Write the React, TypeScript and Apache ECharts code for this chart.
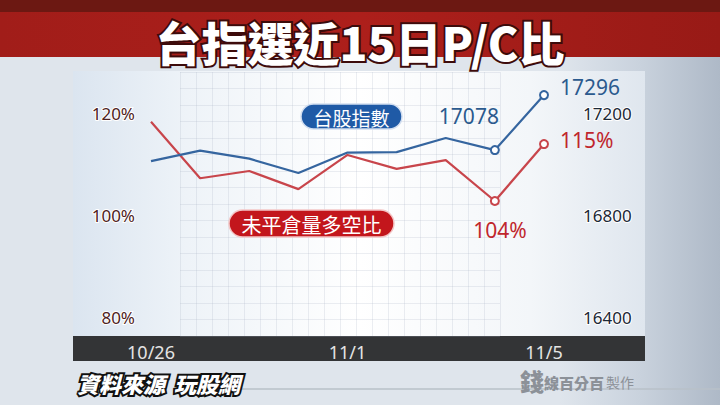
import React, { useEffect, useRef } from "react";
import * as echarts from "echarts";

// ---- data ----
const dates = ["10/26", "10/27", "10/28", "10/29", "11/1", "11/2", "11/3", "11/4", "11/5"];
const taiexIndex = [17034, 17076, 17044, 16987, 17068, 17070, 17126, 17078, 17296];
const pcRatio = [119.3, 108.4, 109.8, 106.3, 112.9, 110.2, 111.9, 104, 115];
const leftTicks = [80, 100, 120];
const rightTicks = [16400, 16800, 17200];
// scale ranges used to plot each series (the picture's own plotting scale)
const pcScale = [81.6, 121.0];
const indexScale = [16416, 17225];

const title = "台指選近15日P/C比";
const indexName = "台股指數";
const ratioName = "未平倉量多空比";
const sourceA = "資料來源";
const sourceB = "玩股網";

const BLUE = "#35659f";
const RED = "#c8454b";
const FONT = "'Noto Sans', 'Noto Sans CJK TC', sans-serif";
const CJK = "'Noto Sans CJK TC', 'Noto Sans', sans-serif";

export default function App() {
  const ref = useRef<HTMLDivElement | null>(null);

  useEffect(() => {
    if (!ref.current) return;
    const chart = echarts.init(ref.current, undefined, { renderer: "svg" });
    const n = dates.length;

    const blueData = taiexIndex.map((v, i) => {
      if (i === n - 2)
        return {
          value: v,
          label: { show: true, position: "top", offset: [-26, -14], formatter: "{c}", color: "#2b5a8e", fontSize: 21, fontFamily: FONT },
        };
      if (i === n - 1)
        return {
          value: v,
          label: { show: true, position: "right", offset: [6, -8], formatter: "{c}", color: "#2b5a8e", fontSize: 21, fontFamily: FONT },
        };
      return v;
    });
    const redData = pcRatio.map((v, i) => {
      if (i === n - 2)
        return {
          value: v,
          label: { show: true, position: "bottom", offset: [5, 8], formatter: "{c}%", color: "#c0262c", fontSize: 21, fontFamily: FONT },
        };
      if (i === n - 1)
        return {
          value: v,
          label: { show: true, position: "right", offset: [6, -4], formatter: "{c}%", color: "#c0262c", fontSize: 21, fontFamily: FONT },
        };
      return v;
    });

    const symbolFn = (_v: any, p: any) => (p.dataIndex >= n - 2 ? "emptyCircle" : "none");
    const paperLine = { show: true, lineStyle: { color: "rgba(168,178,194,0.22)", width: 1 } };

    const option: any = {
      animation: false,
      backgroundColor: "#dfe5ec",
      grid: [
        { left: 151, right: 176, top: 113, bottom: 88 },
        { left: 180, top: 72, width: 320, height: 264 },
      ],
      xAxis: [
        {
          type: "category",
          gridIndex: 0,
          data: dates,
          boundaryGap: false,
          axisLine: { show: false },
          axisTick: { show: false },
          splitLine: { show: false },
          axisLabel: { interval: 3, margin: 26, color: "#e4e4e4", fontSize: 18, fontFamily: FONT },
        },
        {
          type: "value",
          gridIndex: 1,
          min: 0,
          max: 20,
          interval: 1,
          axisLine: { show: false },
          axisTick: { show: false },
          axisLabel: { show: false },
          splitLine: paperLine,
        },
      ],
      yAxis: [
        {
          type: "value",
          gridIndex: 0,
          position: "left",
          min: leftTicks[0],
          max: leftTicks[leftTicks.length - 1],
          interval: leftTicks[1] - leftTicks[0],
          axisLine: { show: false },
          axisTick: { show: false },
          splitLine: { show: false },
          axisLabel: {
            formatter: (v: number) => `${v}%`,
            margin: 16,
            color: "#4e2222",
            fontSize: 17,
            fontFamily: FONT,
            textBorderColor: "#ffffff",
            textBorderWidth: 2,
          },
        },
        {
          type: "value",
          gridIndex: 0,
          position: "right",
          min: rightTicks[0],
          max: rightTicks[rightTicks.length - 1],
          interval: rightTicks[1] - rightTicks[0],
          axisLine: { show: false },
          axisTick: { show: false },
          splitLine: { show: false },
          axisLabel: {
            formatter: (v: number) => String(v),
            margin: 39,
            color: "#1c2836",
            fontSize: 17,
            fontFamily: FONT,
            textBorderColor: "#ffffff",
            textBorderWidth: 2,
          },
        },
        { type: "value", gridIndex: 0, show: false, min: pcScale[0], max: pcScale[1] },
        { type: "value", gridIndex: 0, show: false, min: indexScale[0], max: indexScale[1] },
        {
          type: "value",
          gridIndex: 1,
          min: 0,
          max: 16,
          interval: 1,
          axisLine: { show: false },
          axisTick: { show: false },
          axisLabel: { show: false },
          splitLine: paperLine,
        },
      ],
      series: [
        {
          type: "line",
          name: indexName,
          xAxisIndex: 0,
          yAxisIndex: 3,
          data: blueData,
          clip: false,
          symbol: symbolFn,
          symbolSize: 8,
          showAllSymbol: true,
          lineStyle: { color: BLUE, width: 2.2 },
          itemStyle: { color: BLUE, borderColor: BLUE, borderWidth: 2 },
          z: 3,
        },
        {
          type: "line",
          name: ratioName,
          xAxisIndex: 0,
          yAxisIndex: 2,
          data: redData,
          clip: false,
          symbol: symbolFn,
          symbolSize: 8,
          showAllSymbol: true,
          lineStyle: { color: RED, width: 2.2 },
          itemStyle: { color: RED, borderColor: RED, borderWidth: 2 },
          z: 2,
        },
      ],
      graphic: [
        // right darker side
        {
          type: "rect",
          z: -100,
          shape: { x: 560, y: 57, width: 160, height: 348 },
          style: {
            fill: new echarts.graphic.LinearGradient(0, 0, 1, 0, [
              { offset: 0, color: "rgba(200,210,222,0)" },
              { offset: 0.5, color: "#c9d2dd" },
              { offset: 1, color: "#aeb9c7" },
            ]),
          },
        },
        // chart panel
        {
          type: "rect",
          z: -90,
          shape: { x: 73, y: 71, width: 572, height: 266 },
          style: {
            fill: new echarts.graphic.LinearGradient(0, 0, 1, 0, [
              { offset: 0, color: "#dbe5f0" },
              { offset: 0.2, color: "#eef3f8" },
              { offset: 0.5, color: "#ffffff" },
              { offset: 0.8, color: "#f3f6f9" },
              { offset: 1, color: "#dfe6ee" },
            ]),
          },
        },
        // dark category bar
        {
          type: "rect",
          z: -80,
          shape: { x: 73, y: 336, width: 572, height: 25 },
          style: { fill: "#333436" },
        },
        // title band
        { type: "rect", z: -70, shape: { x: 0, y: 0, width: 720, height: 12 }, style: { fill: "#6c1812" } },
        {
          type: "rect",
          z: -70,
          shape: { x: 0, y: 12, width: 720, height: 45 },
          style: {
            fill: new echarts.graphic.LinearGradient(0, 0, 1, 0, [
              { offset: 0, color: "#a11d19" },
              { offset: 0.5, color: "#ad1f1b" },
              { offset: 1, color: "#981a16" },
            ]),
          },
        },
        {
          type: "text",
          z: 50,
          x: 360,
          y: 41,
          style: {
            text: title,
            fill: "#ffffff",
            stroke: "#3d0b0b",
            lineWidth: 4,
            fontSize: 46,
            fontWeight: 900,
            fontFamily: CJK,
            align: "center",
            verticalAlign: "middle",
            textAlign: "center",
            textVerticalAlign: "middle",
          },
        },
        // legend badges
        {
          type: "group",
          z: 40,
          children: [
            {
              type: "rect",
              z: 40,
              shape: { x: 301, y: 104, width: 101, height: 25, r: 12.5 },
              style: { fill: "#1f5aa6", stroke: "#d2def0", lineWidth: 1.5 },
            },
            {
              type: "text",
              z: 41,
              x: 351.5,
              y: 117,
              style: {
                text: indexName,
                fill: "#ffffff",
                fontSize: 19,
                fontFamily: CJK,
                align: "center",
                verticalAlign: "middle",
                textAlign: "center",
                textVerticalAlign: "middle",
              },
            },
            {
              type: "rect",
              z: 40,
              shape: { x: 229, y: 210, width: 165, height: 27, r: 13.5 },
              style: { fill: "#c3161c", stroke: "#f3c6c6", lineWidth: 1.5 },
            },
            {
              type: "text",
              z: 41,
              x: 311.5,
              y: 224,
              style: {
                text: ratioName,
                fill: "#ffffff",
                fontSize: 20,
                fontFamily: CJK,
                align: "center",
                verticalAlign: "middle",
                textAlign: "center",
                textVerticalAlign: "middle",
              },
            },
          ],
        },
        // bottom rule
        {
          type: "line",
          z: -60,
          shape: { x1: 230, y1: 389, x2: 720, y2: 389 },
          style: { stroke: "#b9c0c9", lineWidth: 1.5 },
        },
        // source
        {
          type: "text",
          z: 30,
          x: 77,
          y: 383,
          style: {
            text: sourceA,
            fill: "#ffffff",
            stroke: "#111111",
            lineWidth: 4,
            fontSize: 22,
            fontWeight: 900,
            fontStyle: "italic",
            fontFamily: CJK,
            verticalAlign: "middle",
            textVerticalAlign: "middle",
          },
        },
        {
          type: "text",
          z: 30,
          x: 174,
          y: 383,
          style: {
            text: sourceB,
            fill: "#ffffff",
            stroke: "#111111",
            lineWidth: 4,
            fontSize: 22,
            fontWeight: 900,
            fontStyle: "italic",
            fontFamily: CJK,
            verticalAlign: "middle",
            textVerticalAlign: "middle",
          },
        },
        // producer logo
        {
          type: "text",
          z: 30,
          x: 520,
          y: 380,
          style: {
            text: "錢",
            fill: "#8c9198",
            fontSize: 24,
            fontWeight: 900,
            fontFamily: CJK,
            verticalAlign: "middle",
            textVerticalAlign: "middle",
          },
        },
        {
          type: "text",
          z: 30,
          x: 544,
          y: 382,
          style: {
            text: "線百分百",
            fill: "#8c9198",
            fontSize: 15,
            fontWeight: 900,
            fontFamily: CJK,
            verticalAlign: "middle",
            textVerticalAlign: "middle",
          },
        },
        {
          type: "text",
          z: 30,
          x: 606,
          y: 382,
          style: {
            text: "製作",
            fill: "#8c9198",
            fontSize: 14,
            fontFamily: CJK,
            verticalAlign: "middle",
            textVerticalAlign: "middle",
          },
        },
      ],
    };

    chart.setOption(option);
    return () => chart.dispose();
  }, []);

  return <div ref={ref} style={{ width: 720, height: 405, position: "absolute", left: 0, top: 0 }} />;
}
